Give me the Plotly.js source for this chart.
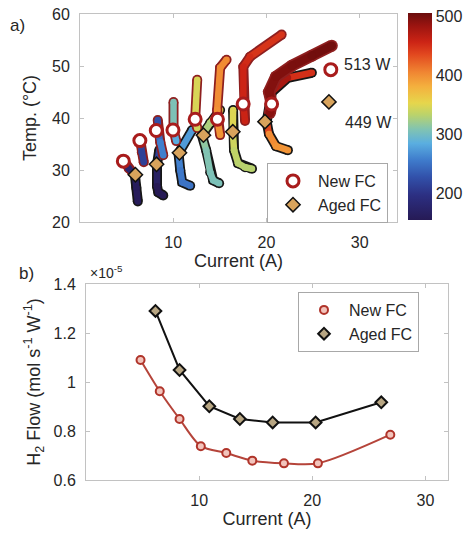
<!DOCTYPE html>
<html>
<head>
<meta charset="utf-8">
<script src="https://cdn.plot.ly/plotly-3.0.1.min.js"></script>
<style>
  html, body { margin: 0; padding: 0; background: #fff; }
  #chart { width: 466px; height: 535px; }
</style>
</head>
<body>
<div id="chart"></div>
<script>
// ---------- Panel a: steady-state operating points ----------
const newCurrent  = [4.65, 6.42, 8.18, 9.97, 12.35, 14.74, 17.5, 20.55, 26.9];   // A
const newTemp     = [31.7, 35.65, 37.6, 37.7, 39.75, 39.75, 42.7, 42.7, 49.3];    // °C
const agedCurrent = [5.94, 8.21, 10.67, 13.24, 16.39, 19.84, 26.7];
const agedTemp    = [29.1, 31.1, 33.3, 36.7, 37.35, 39.3, 43.1];
const newMaxPower  = 513;   // W, highest-load point of the new stack
const agedMaxPower = 449;   // W, highest-load point of the aged stack

// Transient runs (current, temperature, stack power along each run)
const newRunCurrent = [
  [4.69, 5.22, 5.62],
  [6.47, 6.63, 6.84],
  [8.34, 8.36, 8.61, 8.93],
  [10.03, 10.03, 10.32],
  [12.57, 12.35, 12.57],
  [15.72, 15.03, 14.71, 14.74, 15.03],
  [21.63, 18.24, 17.52, 17.52, 17.70],
  [20.37, 20.56, 20.27, 21.02, 22.73, 24.87, 27.01]
];
const newRunTemp = [
  [31.75, 30.28, 29.56],
  [35.65, 33.43, 31.5],
  [39.61, 37.68, 35.36, 32.85],
  [43.09, 37.82, 35.56],
  [47.34, 39.75, 38.07],
  [51.21, 49.66, 41.55, 39.75, 36.71],
  [56.04, 51.79, 49.86, 42.71, 39.42],
  [40.97, 42.71, 45.02, 47.92, 50.05, 51.98, 53.91]
];
const newRunPower = [
  [185, 180, 175],
  [215, 215, 210],
  [215, 235, 255, 260],
  [312, 300, 265],
  [348, 345, 340],
  [402, 402, 400, 398, 396],
  [445, 450, 455, 458, 458],
  [490, 495, 495, 495, 498, 500, 505]
];
const agedRunCurrent = [
  [5.88, 6.04, 6.20],
  [8.50, 8.26, 8.26, 8.40, 8.93],
  [12.03, 10.57, 10.75, 10.96, 11.82],
  [15.03, 13.96, 13.07, 13.53, 13.96, 14.28, 14.92],
  [16.42, 16.39, 16.52, 16.95, 17.70, 18.45],
  [24.87, 22.30, 20.59, 20.02, 20.27, 21.02, 22.30]
];
const agedRunTemp = [
  [29.18, 26.61, 23.96],
  [33.82, 31.05, 26.86, 25.70, 25.12],
  [37.68, 33.18, 29.95, 27.63, 26.96],
  [41.55, 39.03, 36.71, 33.82, 29.57, 28.02, 27.44],
  [41.55, 37.35, 33.82, 31.30, 30.53, 30.24],
  [48.70, 47.73, 45.02, 39.29, 36.91, 34.59, 33.82]
];
const agedRunPower = [
  [165, 160, 158],
  [245, 180, 155, 152, 150],
  [285, 262, 255, 250, 250],
  [370, 335, 318, 310, 306, 305, 305],
  [352, 345, 338, 333, 332, 332],
  [430, 470, 485, 470, 405, 398, 396]
];

// ---------- Panel b: specific hydrogen consumption (×1e-5 mol s^-1 W^-1) ----------
const flowNewCurrent  = [4.82, 6.52, 8.27, 10.15, 12.4, 14.7, 17.5, 20.5, 26.9];
const flowNew         = [1.09, 0.962, 0.849, 0.738, 0.710, 0.679, 0.668, 0.668, 0.785];
const flowAgedCurrent = [6.14, 8.27, 10.9, 13.6, 16.5, 20.3, 26.1];
const flowAged        = [1.29, 1.049, 0.901, 0.849, 0.835, 0.835, 0.917];

const powerMin = 154, powerMax = 506;   // colour bar limits (W)

// Colour map used for power
const cmap = [
  [0.00, '#261a55'], [0.12, '#2c2f82'], [0.21, '#3252ab'], [0.29, '#3f7ccc'],
  [0.37, '#5aaee0'], [0.44, '#82c4b0'], [0.51, '#bcd36a'], [0.565, '#e6d64c'],
  [0.645, '#f4b03e'], [0.715, '#f08532'], [0.80, '#e2481f'], [0.86, '#cc2415'],
  [0.94, '#9a1410'], [1.00, '#6a0d0d']
];
function hexRgb(h) { return [1, 3, 5].map(i => parseInt(h.substr(i, 2), 16)); }
function powerColor(p) {
  let t = (p - powerMin) / (powerMax - powerMin);
  t = Math.max(0, Math.min(1, t));
  for (let k = 0; k < cmap.length - 1; k++) {
    const [t0, c0] = cmap[k], [t1, c1] = cmap[k + 1];
    if (t <= t1) {
      const f = (t - t0) / (t1 - t0), a = hexRgb(c0), b = hexRgb(c1);
      return 'rgb(' + a.map((v, i) => Math.round(v + (b[i] - v) * f)).join(',') + ')';
    }
  }
  return cmap[cmap.length - 1][1];
}

const W = 466, H = 535;
const fx = v => v / W, fy = v => 1 - v / H;
const traces = [];

// A run is a thick outlined stroke whose fill follows the power colour map
function addRun(I, T, P, edge, edgeW, fillW) {
  traces.push({
    type: 'scatter', mode: 'lines+markers', x: I, y: T, xaxis: 'x', yaxis: 'y',
    line: { color: edge, width: edgeW }, marker: { size: edgeW, color: edge },
    showlegend: false, hoverinfo: 'skip'
  });
  for (let k = 0; k < I.length - 1; k++) {
    const c = powerColor((P[k] + P[k + 1]) / 2);
    traces.push({
      type: 'scatter', mode: 'lines+markers', x: [I[k], I[k + 1]], y: [T[k], T[k + 1]],
      xaxis: 'x', yaxis: 'y', line: { color: c, width: fillW },
      marker: { size: fillW, color: c }, showlegend: false, hoverinfo: 'skip'
    });
  }
}
agedRunCurrent.forEach((I, k) => addRun(I, agedRunTemp[k], agedRunPower[k], '#161616', 10, 6.5));
newRunCurrent.forEach((I, k) => addRun(I, newRunTemp[k], newRunPower[k], '#8e1f1f', k === 7 ? 12 : 10, k === 7 ? 8.5 : 6.5));

// Colour bar carrier (invisible points holding the run powers)
traces.push({
  type: 'scatter', mode: 'markers', xaxis: 'x', yaxis: 'y',
  x: [].concat(...newRunCurrent, ...agedRunCurrent),
  y: [].concat(...newRunTemp, ...agedRunTemp),
  marker: {
    size: 1, opacity: 0, color: [].concat(...newRunPower, ...agedRunPower),
    colorscale: cmap, cmin: powerMin, cmax: powerMax, showscale: true,
    colorbar: {
      x: fx(408), xanchor: 'left', xpad: 0, y: fy(116.5), yanchor: 'middle', ypad: 0,
      len: 207, lenmode: 'pixels', thickness: 24, thicknessmode: 'pixels',
      outlinewidth: 0, tickvals: [200, 300, 400, 500], ticks: '',
      tickfont: { size: 16, color: '#262626' }
    }
  },
  showlegend: false, hoverinfo: 'skip'
});

// Operating-point markers
traces.push({
  type: 'scatter', mode: 'markers', name: 'New FC', x: newCurrent, y: newTemp,
  xaxis: 'x', yaxis: 'y', legend: 'legend',
  marker: { symbol: 'circle', size: 12, color: '#ffffff', line: { color: '#a81c1c', width: 3 } }
});
traces.push({
  type: 'scatter', mode: 'markers', name: 'Aged FC', x: agedCurrent, y: agedTemp,
  xaxis: 'x', yaxis: 'y', legend: 'legend',
  marker: { symbol: 'diamond', size: 11, color: '#d8a35c', line: { color: '#111111', width: 1.5 } }
});

// Panel b curves
traces.push({
  type: 'scatter', mode: 'lines', x: flowNewCurrent, y: flowNew, xaxis: 'x2', yaxis: 'y2',
  line: { color: '#b5443a', width: 2, shape: 'spline', smoothing: 0.8 }, showlegend: false, hoverinfo: 'skip'
});
traces.push({
  type: 'scatter', mode: 'lines', x: flowAgedCurrent, y: flowAged, xaxis: 'x2', yaxis: 'y2',
  line: { color: '#111111', width: 2 }, showlegend: false, hoverinfo: 'skip'
});
traces.push({
  type: 'scatter', mode: 'markers', name: 'New FC', x: flowNewCurrent, y: flowNew,
  xaxis: 'x2', yaxis: 'y2', legend: 'legend2',
  marker: { symbol: 'circle', size: 8, color: '#f2c4bc', line: { color: '#b0342a', width: 2 } }
});
traces.push({
  type: 'scatter', mode: 'markers', name: 'Aged FC', x: flowAgedCurrent, y: flowAged,
  xaxis: 'x2', yaxis: 'y2', legend: 'legend2',
  marker: { symbol: 'diamond', size: 9, color: '#b8a683', line: { color: '#111111', width: 2 } }
});

const axisBase = {
  showline: true, linecolor: '#c2c2c2', linewidth: 1, mirror: 'ticks',
  ticks: 'inside', ticklen: 4, tickcolor: '#c2c2c2', showgrid: false, zeroline: false,
  tickfont: { size: 16, color: '#262626' }
};
const legendBase = {
  xanchor: 'left', yanchor: 'top', bgcolor: '#ffffff', bordercolor: '#a8a8a8', borderwidth: 1,
  font: { size: 16, color: '#262626' }, itemwidth: 40, tracegroupgap: 0
};

const layout = {
  width: W, height: H, margin: { l: 0, r: 0, t: 0, b: 0 },
  paper_bgcolor: '#ffffff', plot_bgcolor: '#ffffff',
  font: { family: 'Liberation Sans, Arial, sans-serif', size: 16, color: '#262626' },
  xaxis: Object.assign({}, axisBase, {
    domain: [fx(80), fx(397)], range: [0, 34], tickvals: [10, 20, 30], anchor: 'y',
    ticklabelstandoff: 6, title: { text: 'Current (A)', font: { size: 18 }, standoff: 0 }
  }),
  yaxis: Object.assign({}, axisBase, {
    domain: [fy(222), fy(14)], range: [20, 60], tickvals: [20, 30, 40, 50, 60], anchor: 'x',
    ticklabelstandoff: 6, title: { text: 'Temp. (°C)', font: { size: 18 }, standoff: 10 }
  }),
  xaxis2: Object.assign({}, axisBase, {
    domain: [fx(86), fx(448)], range: [0, 32], tickvals: [10, 20, 30], anchor: 'y2',
    ticklabelstandoff: 6, title: { text: 'Current (A)', font: { size: 18 }, standoff: 2 }
  }),
  yaxis2: Object.assign({}, axisBase, {
    domain: [fy(480), fy(284)], range: [0.6, 1.4], anchor: 'x2',
    tickvals: [0.6, 0.8, 1, 1.2, 1.4], ticktext: ['0.6', '0.8', '1', '1.2', '1.4'],
    ticklabelstandoff: 6,
    title: { text: 'H<sub>2</sub> Flow (mol s<sup>-1</sup> W<sup>-1</sup>)', font: { size: 18 }, standoff: 8 }
  }),
  legend: Object.assign({}, legendBase, { x: fx(267), y: fy(163) }),
  legend2: Object.assign({}, legendBase, { x: fx(298), y: fy(292) }),
  annotations: [
    { text: 'a)', xref: 'paper', yref: 'paper', x: fx(8), y: fy(25), xanchor: 'left', yanchor: 'middle', showarrow: false, font: { size: 17 } },
    { text: 'b)', xref: 'paper', yref: 'paper', x: fx(17), y: fy(273), xanchor: 'left', yanchor: 'middle', showarrow: false, font: { size: 17 } },
    { text: '×10<sup>-5</sup>', xref: 'paper', yref: 'paper', x: fx(88), y: fy(272), xanchor: 'left', yanchor: 'middle', showarrow: false, font: { size: 14 } },
    { text: newMaxPower + ' W', xref: 'x', yref: 'y', x: 28.1, y: 50.2, xanchor: 'left', yanchor: 'middle', showarrow: false, font: { size: 16 } },
    { text: agedMaxPower + ' W', xref: 'x', yref: 'y', x: 28.2, y: 39.2, xanchor: 'left', yanchor: 'middle', showarrow: false, font: { size: 16 } }
  ]
};

Plotly.newPlot('chart', traces, layout, { staticPlot: true, displayModeBar: false });
</script>
</body>
</html>
